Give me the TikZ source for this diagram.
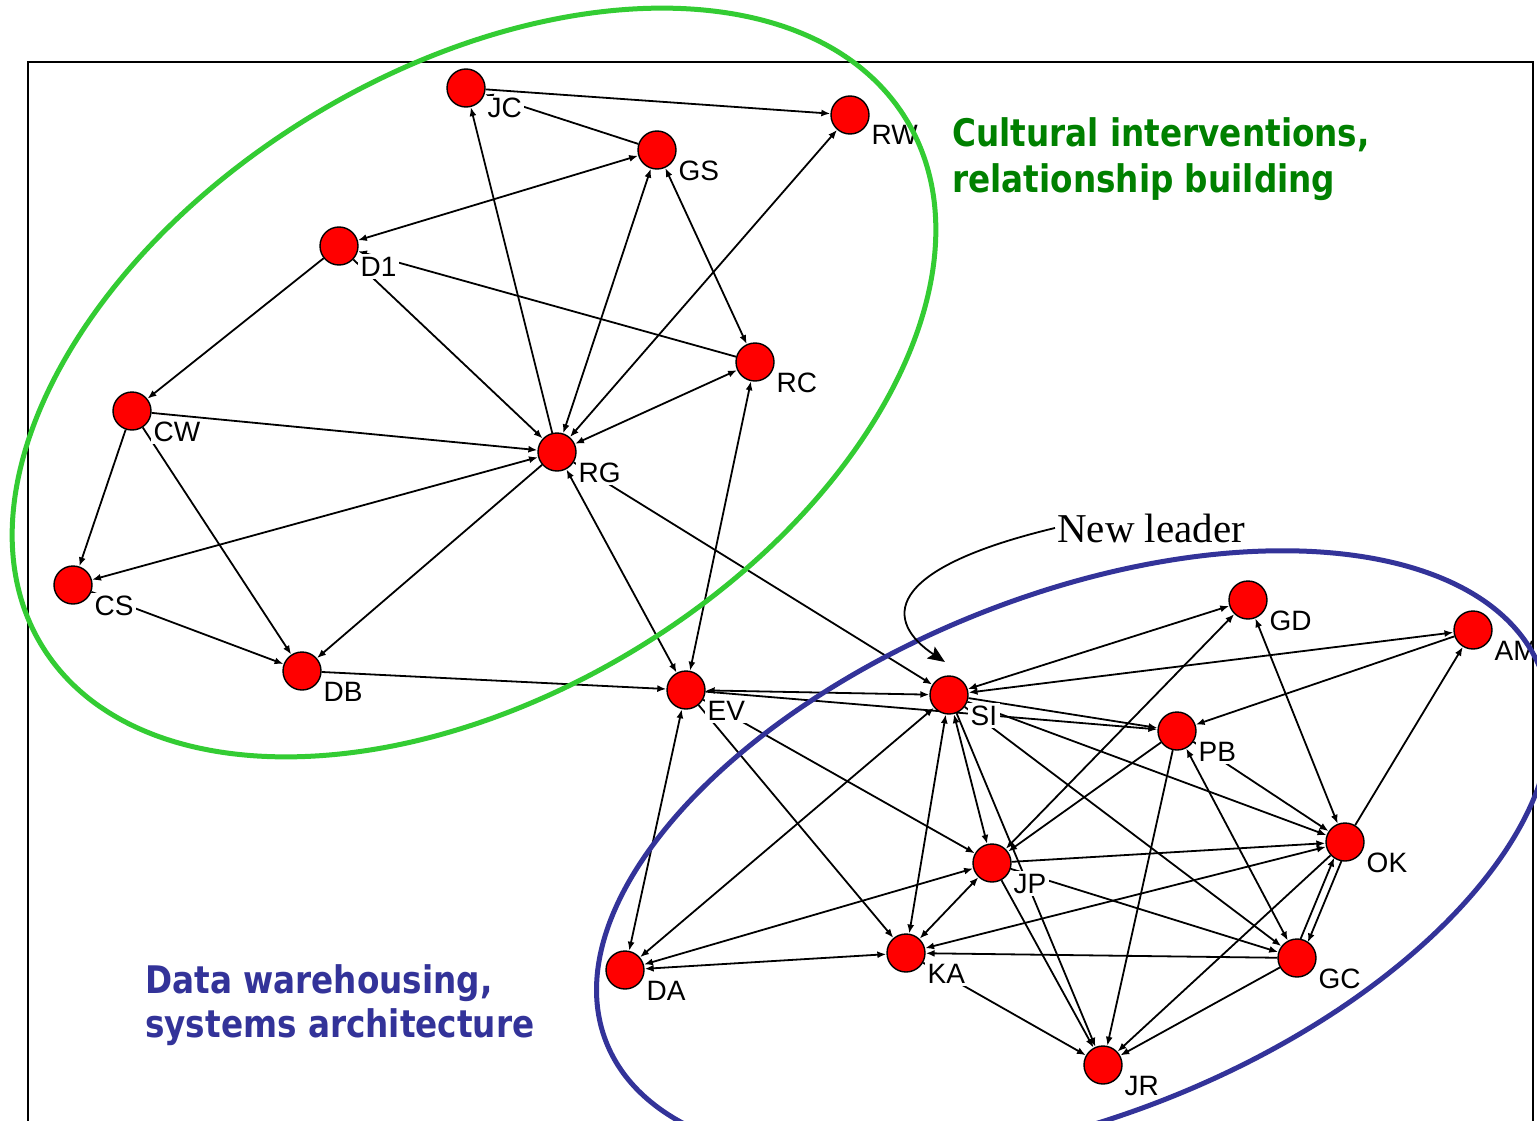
\documentclass[tikz,border=0pt]{standalone}
\usepackage{fontspec}
\setmainfont{Liberation Sans}
\newfontfamily\labfont{Liberation Sans}
\newfontfamily\leaderfont{Liberation Serif}
\newfontfamily\titlefont[FakeStretch=0.86]{DejaVu Sans}
\usetikzlibrary{arrows.meta,calc}
\pgfdeclarelayer{bg}
\pgfdeclarelayer{edges}
\pgfdeclarelayer{labels}
\pgfdeclarelayer{top}
\pgfsetlayers{bg,edges,labels,main,top}
\definecolor{nodered}{RGB}{255,0,0}
\definecolor{grellipse}{RGB}{51,204,51}
\definecolor{grtext}{RGB}{0,128,0}
\definecolor{bluec}{RGB}{51,51,153}
\newcommand\vnode[3]{%
  \node[vtx] (#1) at (#2) {};
  \begin{pgfonlayer}{labels}
    \begin{scope}
      \clip (28,62) rectangle (1531,1121);
      \node[lab] (#1lab) at ([shift={(19,30)}]#1.center) {#3};
    \end{scope}
  \end{pgfonlayer}}
\begin{document}
\begin{tikzpicture}[x=1pt,y=-1pt,
  >={Latex[length=9pt,width=7pt]},
  vtx/.style={circle,draw=black,line width=1.4pt,fill=nodered,minimum size=38pt,inner sep=0pt},
  lab/.style={font=\labfont\fontsize{28}{30}\selectfont,fill=white,inner sep=2.5pt,anchor=base west},
  uni/.style={draw=black,line width=1.8pt,->},
  bi/.style={draw=black,line width=1.8pt,<->},
  title/.style={anchor=base west,inner sep=0pt,font=\titlefont\bfseries\fontsize{38}{40}\selectfont}]
\useasboundingbox (0,0) rectangle (1537,1121);
\begin{pgfonlayer}{bg}
  \fill[white] (0,0) rectangle (1537,1121);
\end{pgfonlayer}

% vertices
\vnode{JC}{466,88}{JC}
\vnode{RW}{850,115}{RW}
\vnode{GS}{657,150}{GS}
\vnode{D1}{339,246}{D1}
\vnode{RC}{755,362}{RC}
\vnode{CW}{132,411}{CW}
\vnode{RG}{557,452}{RG}
\vnode{CS}{73,585}{CS}
\vnode{DB}{302,671}{DB}
\vnode{EV}{686,690}{EV}
\vnode{SI}{949,695}{SI}
\vnode{GD}{1248,600}{GD}
\vnode{AM}{1473,630}{AM}
\vnode{PB}{1177,731}{PB}
\vnode{OK}{1345,842}{OK}
\vnode{JP}{992,863}{JP}
\vnode{KA}{906,953}{KA}
\vnode{DA}{625,970}{DA}
\vnode{GC}{1297,958}{GC}
\vnode{JR}{1103,1065}{JR}

\begin{pgfonlayer}{edges}
  \draw[line width=1.6pt] (28,1140) -- (28,62) -- (1533,62) -- (1533,1140);
  % upper cluster
  \draw[uni] (JC) -- (RW);
  \draw[uni] (GS) -- (JC);
  \draw[uni] (RG) -- (JC);
  \draw[bi] (D1) -- (GS);
  \draw[bi] (RG) -- (GS);
  \draw[bi] (GS) -- (RC);
  \draw[bi] (RG) -- (RW);
  \draw[uni] (RC) -- (D1);
  \draw[uni] (D1) -- (RG);
  \draw[bi] (RG) -- (RC);
  \draw[uni] (CW) -- (RG);
  \draw[bi] (RG) -- (CS);
  \draw[uni] (D1) -- (CW);
  \draw[uni] (CW) -- (CS);
  \draw[uni] (CW) -- (DB);
  \draw[uni] (CS) -- (DB);
  \draw[uni] (RG) -- (DB);
  \draw[bi] (RG) -- (EV);
  \draw[bi] (RC) -- (EV);
  \draw[uni] (DB) -- (EV);
  \draw[uni] (RG) -- (SI);
  % middle
  \draw[bi] (EV) -- (SI);
  \draw[uni] (EV) -- (PB);
  \draw[uni] (EV) -- (KA);
  \draw[uni] (EV) -- (JP);
  \draw[bi] (EV) -- (DA);
  % lower cluster
  \draw[bi] (SI) -- (GD);
  \draw[bi] (SI) -- (AM);
  \draw[uni] (AM) -- (PB);
  \draw[uni] (SI) -- (PB);
  \draw[uni] (SI) -- (OK);
  \draw[uni] (SI) -- (GC);
  \draw[bi] (SI) -- (JP);
  \draw[uni] (SI) -- (JR);
  \draw[bi] (SI) -- (KA);
  \draw[bi] (DA) -- (SI);
  \draw[uni] (PB) -- (OK);
  \draw[bi] (GD) -- (OK);
  \draw[uni] (OK) -- (AM);
  \draw[bi] (PB) -- (GC);
  \draw[uni] (PB) -- (JP);
  \draw[bi] (JP) -- (GD);
  \draw[uni] (PB) -- (JR);
  \draw[bi] (DA) -- (JP);
  \draw[bi] (DA) -- (KA);
  \draw[bi] (JP) -- (KA);
  \draw[bi] (KA) -- (OK);
  \draw[uni] (GC) -- (KA);
  \draw[uni] (JP) -- (OK);
  \draw[uni] (JP) -- (GC);
  \draw[uni,shorten >=18.5pt,shorten <=18.5pt] ($(OK.center)!4pt!90:(GC.center)$) -- ($(GC.center)!4pt!-90:(OK.center)$);
  \draw[uni,shorten >=18.5pt,shorten <=18.5pt] ($(GC.center)!4pt!90:(OK.center)$) -- ($(OK.center)!4pt!-90:(GC.center)$);
  \draw[uni] (OK) -- (JR);
  \draw[uni] (GC) -- (JR);
  \draw[uni] (KA) -- (JR);
  \draw[uni] (JP) -- (JR);
\end{pgfonlayer}

\begin{pgfonlayer}{top}
  \draw[grellipse,line width=5pt,rotate around={31.3:(474,382.5)}] (474,382.5) ellipse [x radius=506, y radius=312];
  \draw[bluec,line width=5pt,rotate around={21.8:(1073.5,856)}] (1073.5,856) ellipse [x radius=503, y radius=260];
  \node[title,text=grtext] (t1) at (952,147) {Cultural interventions,};
  \node[title,text=grtext] (t2) at (952,192) {relationship building};
  \node[title,text=bluec] (t3) at (145,993) {Data warehousing,};
  \node[title,text=bluec] (t4) at (145,1037) {systems architecture};
  \node[anchor=base west,inner sep=0pt,font=\leaderfont\fontsize{41}{44}\selectfont] (nl) at (1057,542) {New leader};
  \coordinate (nltip) at (945,662);
  \draw[line width=1.8pt,-{Stealth[length=17pt,width=14pt,inset=3pt]}] ([xshift=-2pt]nl.west) .. controls (880,570) and (885,622) .. (nltip);
\end{pgfonlayer}
\end{tikzpicture}
\end{document}
